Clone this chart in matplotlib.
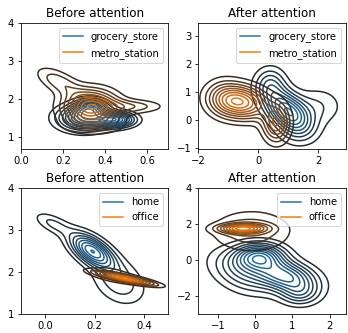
import numpy as np
import matplotlib
matplotlib.use('Agg')
import matplotlib.pyplot as plt
from matplotlib.colors import LinearSegmentedColormap

# Gaussian mixture components (mean, sd, correlation, weight)
# Before attention, grocery_store vs metro_station
grocery_before_means = [(0.33, 1.78), (0.30, 1.50), (0.45, 1.45)]
grocery_before_sds = [(0.05, 0.15), (0.08, 0.22), (0.06, 0.13)]
grocery_before_rhos = [0.0, 0.0, 0.0]
grocery_before_weights = [0.15, 0.60, 0.25]

metro_before_means = [(0.33, 1.78), (0.18, 2.45), (0.52, 1.80), (0.35, 1.30)]
metro_before_sds = [(0.085, 0.30), (0.07, 0.25), (0.10, 0.12), (0.10, 0.15)]
metro_before_rhos = [0.0, -0.6, 0.0, 0.0]
metro_before_weights = [0.70, 0.12, 0.10, 0.08]

# After attention, grocery_store vs metro_station
grocery_after_means = [(0.95, 0.35), (0.4, 1.3), (2.0, 0.5), (1.3, -0.35)]
grocery_after_sds = [(0.50, 0.50), (0.35, 0.40), (0.55, 0.45), (0.45, 0.40)]
grocery_after_rhos = [-0.45, 0.0, 0.0, 0.0]
grocery_after_weights = [0.60, 0.15, 0.15, 0.10]

metro_after_means = [(-0.6, 0.65), (0.6, -0.1), (-1.2, 0.8)]
metro_after_sds = [(0.60, 0.40), (0.30, 0.45), (0.40, 0.45)]
metro_after_rhos = [-0.15, 0.0, 0.0]
metro_after_weights = [0.65, 0.25, 0.10]

# Before attention, home vs office
home_before_means = [(0.19, 2.50), (0.03, 3.15), (0.30, 1.75)]
home_before_sds = [(0.06, 0.28), (0.05, 0.18), (0.07, 0.35)]
home_before_rhos = [-0.6, -0.6, -0.3]
home_before_weights = [0.60, 0.08, 0.32]

office_before_means = [(0.33, 1.84), (0.27, 1.95)]
office_before_sds = [(0.075, 0.10), (0.08, 0.20)]
office_before_rhos = [-0.85, -0.4]
office_before_weights = [0.65, 0.35]

# After attention, home vs office
home_after_means = [(0.1, 0.2), (0.8, -0.9), (-0.4, -0.7), (1.2, -1.9)]
home_after_sds = [(0.45, 0.50), (0.55, 0.60), (0.55, 0.80), (0.35, 0.45)]
home_after_rhos = [0.0, -0.3, -0.4, 0.0]
home_after_weights = [0.30, 0.40, 0.22, 0.08]

office_after_means = [(-0.35, 1.75), (-0.1, 1.6)]
office_after_sds = [(0.40, 0.17), (0.70, 0.75)]
office_after_rhos = [0.0, 0.0]
office_after_weights = [0.25, 0.75]

titles = ['Before attention', 'After attention', 'Before attention', 'After attention']
labels_top = ['grocery_store', 'metro_station']
labels_bottom = ['home', 'office']
xlims = [(0.0, 0.70), (-2.0, 2.92), (-0.1, 0.5), (-1.52, 2.43)]
ylims = [(0.68, 4.0), (-1.02, 3.46), (1.0, 4.0), (-3.0, 4.0)]
xticks = [[0.0, 0.2, 0.4, 0.6], [-2, 0, 2], [0.0, 0.2, 0.4], [-1, 0, 1, 2]]
yticks = [[1, 2, 3, 4], [-1, 0, 1, 2, 3], [1, 2, 3, 4], [-2, 0, 2, 4]]


def mixture(xx, yy, means, sds, rhos, weights):
    z = np.zeros_like(xx)
    for (mx, my), (sx, sy), r, w in zip(means, sds, rhos, weights):
        dx = (xx - mx) / sx
        dy = (yy - my) / sy
        q = (dx ** 2 - 2 * r * dx * dy + dy ** 2) / (1 - r ** 2)
        z += w * np.exp(-q / 2) / (2 * np.pi * sx * sy * np.sqrt(1 - r ** 2))
    return z


def kde_like(ax, params, color, label, xlim, ylim):
    xs = np.linspace(xlim[0], xlim[1], 250)
    ys = np.linspace(ylim[0], ylim[1], 250)
    xx, yy = np.meshgrid(xs, ys)
    z = mixture(xx, yy, *params)
    cmap = LinearSegmentedColormap.from_list(label, ['#222222', color])
    ax.contour(xx, yy, z, 10, cmap=cmap, linewidths=1.5)
    ax.plot([], [], color=cmap(0.95), label=label)


panels = [
    [(grocery_before_means, grocery_before_sds, grocery_before_rhos, grocery_before_weights),
     (metro_before_means, metro_before_sds, metro_before_rhos, metro_before_weights)],
    [(grocery_after_means, grocery_after_sds, grocery_after_rhos, grocery_after_weights),
     (metro_after_means, metro_after_sds, metro_after_rhos, metro_after_weights)],
    [(home_before_means, home_before_sds, home_before_rhos, home_before_weights),
     (office_before_means, office_before_sds, office_before_rhos, office_before_weights)],
    [(home_after_means, home_after_sds, home_after_rhos, home_after_weights),
     (office_after_means, office_after_sds, office_after_rhos, office_after_weights)],
]

fig, axes = plt.subplots(2, 2, figsize=(348 / 72, 333 / 72), dpi=72)
plt.subplots_adjust(left=0.060, right=0.994, top=0.931, bottom=0.057, wspace=0.203, hspace=0.31)

for i, ax in enumerate(axes.flat):
    labels = labels_top if i < 2 else labels_bottom
    for params, color, label in zip(panels[i], ['C0', 'C1'], labels):
        kde_like(ax, params, color, label, xlims[i], ylims[i])
    ax.set_xlim(xlims[i])
    ax.set_ylim(ylims[i])
    ax.set_xticks(xticks[i])
    ax.set_yticks(yticks[i])
    ax.set_title(titles[i])
    ax.legend(loc='upper right')

plt.savefig('out.png', dpi=72)
